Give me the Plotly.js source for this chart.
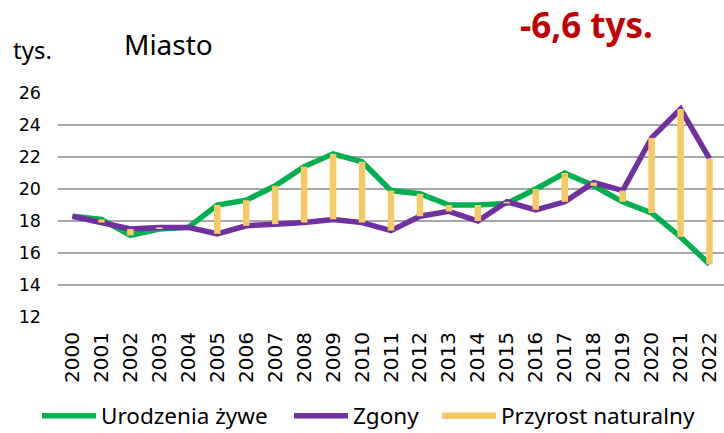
<!DOCTYPE html>
<html>
<head>
<meta charset="utf-8">
<script src="https://cdn.plot.ly/plotly-3.0.1.min.js"></script>
<style>html,body{margin:0;padding:0;background:#fff}#chart{width:724px;height:433px}</style>
</head>
<body>
<div id="chart"></div>
<script>
const years = ["2000","2001","2002","2003","2004","2005","2006","2007","2008","2009","2010","2011","2012","2013","2014","2015","2016","2017","2018","2019","2020","2021","2022"];
const urodzenia = [18.3, 18.1, 17.1, 17.5, 17.6, 19.0, 19.3, 20.2, 21.4, 22.2, 21.7, 19.9, 19.7, 19.0, 19.0, 19.1, 20.0, 21.0, 20.2, 19.2, 18.5, 17.0, 15.3];
const zgony = [18.3, 17.9, 17.5, 17.6, 17.6, 17.2, 17.7, 17.8, 17.9, 18.1, 17.9, 17.4, 18.3, 18.6, 18.0, 19.2, 18.7, 19.2, 20.4, 19.9, 23.2, 25.0, 21.9];
const seriesNames = ["Urodzenia żywe", "Zgony", "Przyrost naturalny"];
const yTicks = [12, 14, 16, 18, 20, 22, 24, 26];

// high-low segments for natural increase
const px = [], py = [];
years.forEach((yr, i) => { px.push(yr, yr, null); py.push(urodzenia[i], zgony[i], null); });

const W = 724, H = 433, L = 58, R = 0, T = 93, B = 116;
const pw = W - L - R, ph = H - T - B;
const paperX = p => (p - L) / pw;
const paperY = p => (H - B - p) / ph;

const legFont = {family: "Noto Sans", size: 22.5, color: "#000"};
const mkLeg = (xp) => ({orientation: "h", x: paperX(xp), xanchor: "left", y: paperY(416), yanchor: "middle",
  font: legFont, bgcolor: "rgba(0,0,0,0)", borderwidth: 0, itemwidth: 54, tracegroupgap: 0});

const traces = [
  {x: years, y: urodzenia, name: seriesNames[0], type: "scatter", mode: "lines",
   line: {color: "#00B050", width: 5.5}, legend: "legend"},
  {x: years, y: zgony, name: seriesNames[1], type: "scatter", mode: "lines",
   line: {color: "#7030A0", width: 5.5}, legend: "legend2"},
  {x: px, y: py, name: seriesNames[2], type: "scatter", mode: "lines", connectgaps: false,
   line: {color: "#F6C965", width: 6.5}, legend: "legend3"}
];

const layout = {
  width: W, height: H,
  margin: {l: L, r: R, t: T, b: B, pad: 0, autoexpand: false},
  paper_bgcolor: "#fff", plot_bgcolor: "#fff",
  hovermode: false,
  showlegend: true,
  legend: mkLeg(37),
  legend2: mkLeg(289),
  legend3: mkLeg(437),
  xaxis: {type: "category", categoryarray: years, range: [-0.5, 22.5], showgrid: false, showline: false,
    zeroline: false, ticks: "", tickangle: -90, ticklabelstandoff: 10, automargin: false,
    tickfont: {family: "DejaVu Sans", size: 20, color: "#000"}},
  yaxis: {range: [12, 26], tickvals: yTicks, showgrid: true, gridcolor: "#A6A6A6", gridwidth: 1.6,
    zeroline: false, showline: false, ticks: "", ticklabelstandoff: 16, automargin: false,
    tickfont: {family: "DejaVu Sans", size: 17.5, color: "#000"}},
  annotations: [
    {text: "tys.", xref: "paper", yref: "paper", x: paperX(11), y: paperY(49), xanchor: "left", yanchor: "middle",
     showarrow: false, font: {family: "Noto Sans", size: 24, color: "#000"}},
    {text: "Miasto", xref: "paper", yref: "paper", x: paperX(122), y: paperY(44), xanchor: "left", yanchor: "middle",
     showarrow: false, font: {family: "Noto Sans", size: 28, color: "#000"}},
    {text: "<b>-6,6 tys.</b>", xref: "paper", yref: "paper", x: paperX(518), y: paperY(24), xanchor: "left", yanchor: "middle",
     showarrow: false, font: {family: "Noto Sans", size: 35, color: "#C00000"}}
  ]
};

Plotly.newPlot("chart", traces, layout, {displayModeBar: false, staticPlot: true});
</script>
</body>
</html>
